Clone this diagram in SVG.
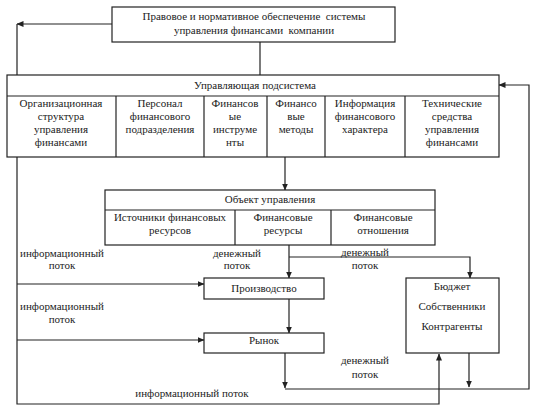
<svg xmlns="http://www.w3.org/2000/svg" width="537" height="412" viewBox="0 0 537 412">
<style>
.b{fill:#fff;stroke:#222;stroke-width:1.2}
.l{fill:none;stroke:#222;stroke-width:1.2}
text{font-family:"Liberation Serif","Times New Roman",serif;font-size:11px;fill:#222;text-anchor:middle}
.p{white-space:pre}
</style>
<defs>
<marker id="a" markerWidth="7" markerHeight="6" refX="6.5" refY="3" orient="auto" markerUnits="userSpaceOnUse">
<path d="M0,0 L7,3 L0,6 Z" fill="#222"/>
</marker>
</defs>
<rect width="537" height="412" fill="#fff"/>
<g id="connectors">
<path class="l" d="M260,42 V75"/>
<path class="l" d="M112,24 H17" marker-end="url(#a)"/>
<path class="l" d="M17,24 V404 H439 V354" marker-end="url(#a)"/>
<path class="l" d="M17,284 H204" marker-end="url(#a)"/>
<path class="l" d="M17,340 H204" marker-end="url(#a)"/>
<path class="l" d="M285,157 V190" marker-end="url(#a)"/>
<path class="l" d="M289,245 V278" marker-end="url(#a)"/>
<path class="l" d="M289,257 H470 V278" marker-end="url(#a)"/>
<path class="l" d="M289,299 V333" marker-end="url(#a)"/>
<path class="l" d="M285,353 V388" marker-end="url(#a)"/>
<path class="l" d="M469,353 V387" marker-end="url(#a)"/>
<path class="l" d="M285,389 H529 V85 H499" marker-end="url(#a)"/>
</g>
<g id="legal">
<rect class="b" x="112" y="7" width="283" height="35"/>
<text class="p" x="254" y="20" xml:space="preserve">Правовое и нормативное обеспечение  системы</text>
<text class="p" x="254" y="34" xml:space="preserve">управления финансами  компании</text>
</g>
<g id="subsystem">
<rect class="b" x="7" y="75" width="492" height="82"/>
<line class="l" x1="7" y1="96" x2="499" y2="96"/>
<line class="l" x1="116" y1="96" x2="116" y2="157"/>
<line class="l" x1="204" y1="96" x2="204" y2="157"/>
<line class="l" x1="267" y1="96" x2="267" y2="157"/>
<line class="l" x1="325" y1="96" x2="325" y2="157"/>
<line class="l" x1="405" y1="96" x2="405" y2="157"/>
<text x="255" y="89">Управляющая подсистема</text>
<text x="61" y="107">Организационная</text>
<text x="61" y="120">структура</text>
<text x="61" y="133">управления</text>
<text x="61" y="146">финансами</text>
<text x="160" y="107">Персонал</text>
<text x="160" y="120">финансового</text>
<text x="160" y="133">подразделения</text>
<text x="235" y="107">Финансов</text>
<text x="235" y="120">ые</text>
<text x="235" y="133">инструме</text>
<text x="235" y="146">нты</text>
<text x="296" y="107">Финансо</text>
<text x="296" y="120">вые</text>
<text x="296" y="133">методы</text>
<text x="365" y="107">Информация</text>
<text x="365" y="120">финансового</text>
<text x="365" y="133">характера</text>
<text x="452" y="107">Технические</text>
<text x="452" y="120">средства</text>
<text x="452" y="133">управления</text>
<text x="452" y="146">финансами</text>
</g>
<g id="object">
<rect class="b" x="105" y="190" width="330" height="55"/>
<line class="l" x1="105" y1="210" x2="435" y2="210"/>
<line class="l" x1="235" y1="210" x2="235" y2="245"/>
<line class="l" x1="331" y1="210" x2="331" y2="245"/>
<text x="270" y="203">Объект управления</text>
<text x="170" y="221">Источники финансовых</text>
<text x="170" y="234">ресурсов</text>
<text x="283" y="221">Финансовые</text>
<text x="283" y="234">ресурсы</text>
<text x="383" y="221">Финансовые</text>
<text x="383" y="234">отношения</text>
</g>
<g id="production">
<rect class="b" x="204" y="278" width="120" height="21"/>
<text x="264" y="292">Производство</text>
</g>
<g id="market">
<rect class="b" x="204" y="333" width="120" height="20"/>
<text x="264" y="344">Рынок</text>
</g>
<g id="budget">
<rect class="b" x="406" y="278" width="93" height="75"/>
<text x="452" y="290">Бюджет</text>
<text x="452" y="310">Собственники</text>
<text x="452" y="330">Контрагенты</text>
</g>
<g id="labels">
<text x="62" y="257">информационный</text>
<text x="62" y="269">поток</text>
<text x="62" y="310">информационный</text>
<text x="62" y="323">поток</text>
<text x="237" y="257">денежный</text>
<text x="237" y="269">поток</text>
<text x="365" y="256">денежный</text>
<text x="365" y="269">поток</text>
<text x="365" y="364">денежный</text>
<text x="365" y="378">поток</text>
<text x="192" y="397">информационный поток</text>
</g>
</svg>
